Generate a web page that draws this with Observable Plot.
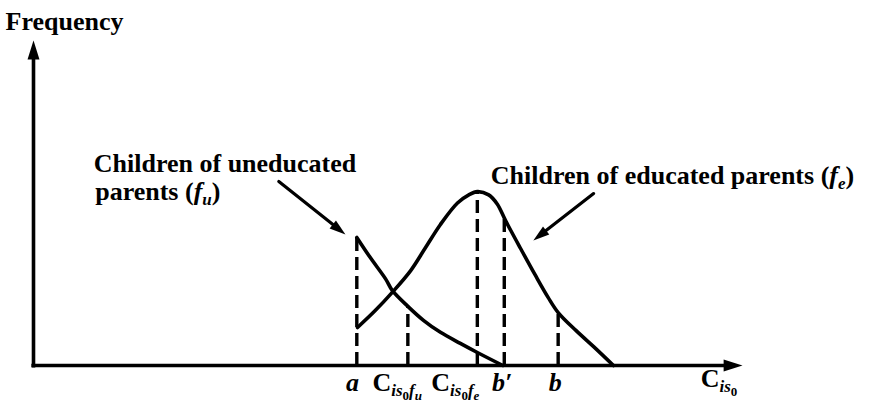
<!DOCTYPE html>
<html>
<head>
<meta charset="utf-8">
<script src="https://cdn.jsdelivr.net/npm/d3@7"></script>
<script src="https://cdn.jsdelivr.net/npm/@observablehq/plot@0.6"></script>
<style>
  html, body { margin: 0; padding: 0; background: #fff; }
  #chart svg { display: block; overflow: visible; }
</style>
</head>
<body>
<div id="chart"></div>
<script>
// Frequency curves in abstract units (x: score C_is0, y: frequency)
const uneducatedX = [45.6, 47.5, 49.7, 50.6, 52.8, 55.0, 57.4, 60.2, 62.6, 66.2];
const uneducatedY = [39.4, 33.2, 26.5, 23.1, 18.2, 13.9, 10.2, 6.8, 4.0, 0];
const educatedX = [45.7, 48.2, 50.6, 53.2, 55.3, 57.4, 59.8, 61.4, 62.6, 64.2, 65.4, 66.6, 68.7, 70.8, 72.6, 74.0, 76.5, 79.3, 81.8];
const educatedY = [11.7, 16.9, 22.5, 29.2, 36.3, 43.4, 50.0, 52.5, 53.5, 52.5, 49.7, 44.5, 36.0, 27.7, 20.9, 16.3, 10.8, 5.2, 0];

// Marked scores on the axis and the curve height each guide line reaches
const tickNames = ["a", "C_is0f_u", "C_is0f_e", "b′", "b"];
const tickX = [45.6, 52.8, 62.6, 66.4, 74.0];
const tickTop = [39.4, 18.2, 53.5, 45.5, 16.3];
// where each score's label is centred along the axis
const tickLabelX = [45.0, 51.3, 59.5, 66.1, 73.6];

// Curve annotations
const noteText = ["Children of uneducated", "parents (f_u)", "Children of educated parents (f_e)"];
const noteX = [8.5, 8.7, 64.5];
const noteY = [59.4, 50.8, 56.0];

// Annotation arrows, tail -> tip
const arrowX1 = [34.6, 79.0];
const arrowY1 = [56.6, 52.9];
const arrowX2 = [44.0, 70.5];
const arrowY2 = [40.3, 38.5];

// Axis titles
const axisTitle = ["Frequency", "C_is0"];
const axisTitleX = [-3.95, 94.1];
const axisTitleY = [103.1, 0];

// Rich text runs: [text, level (0 base, 1 sub, 2 sub-sub), italic]
const richText = {
  "parents (f_u)": [["parents (", 0, false], ["f", 0, true], ["u", 1, true], [")", 0, false]],
  "Children of educated parents (f_e)": [["Children of educated parents (", 0, false], ["f", 0, true], ["e", 1, true], [")", 0, false]],
  "a": [["a", 0, true]],
  "b": [["b", 0, true]],
  "b′": [["b′", 0, true]],
  "C_is0f_u": [["C", 0, false], ["is", 1, true], ["0", 2, false], ["f", 1, true], ["u", 2, true]],
  "C_is0f_e": [["C", 0, false], ["is", 1, true], ["0", 2, false], ["f", 1, true], ["e", 2, true]],
  "C_is0": [["C", 0, false], ["is", 1, true], ["0", 2, false]]
};
const levelSize = [26, 17, 13];
const levelShift = [0, 5, 9];

const W = 881, H = 402;
const M = {top: 40, right: 139, bottom: 37, left: 33};
const xDomain = [0, 100], yDomain = [0, 100];
const px = d3.scaleLinear(xDomain, [M.left, W - M.right]);
const py = d3.scaleLinear(yDomain, [H - M.bottom, M.top]);
const screenAngle = (x1, y1, x2, y2) =>
  Math.atan2(px(x2) - px(x1), -(py(y2) - py(y1))) * 180 / Math.PI;

const uneducated = uneducatedX.map((x, i) => ({x, y: uneducatedY[i]}));
const educated = educatedX.map((x, i) => ({x, y: educatedY[i]}));
const ticks = tickNames.map((name, i) => ({name, x: tickX[i], top: tickTop[i], lx: tickLabelX[i]}));
const notes = noteText.map((text, i) => ({text, x: noteX[i], y: noteY[i]}));
const arrows = arrowX1.map((x1, i) => ({
  x1, y1: arrowY1[i], x2: arrowX2[i], y2: arrowY2[i],
  angle: screenAngle(x1, arrowY1[i], arrowX2[i], arrowY2[i])
}));
const axes = [
  {x1: 0, y1: -0.6, x2: 0, y2: 96, hx: 0, hy: 100, angle: 0},
  {x1: -0.3, y1: 0, x2: 97.5, y2: 0, hx: 100, hy: 0, angle: 90}
];
const titles = axisTitle.map((text, i) => ({text, x: axisTitleX[i], y: axisTitleY[i]}));

// Filled, narrow arrowhead with its tip at the symbol origin, pointing up
const arrowHead = {
  draw(context, size) {
    const r = Math.sqrt(size / Math.PI);
    const len = 2.7 * r, half = 0.85 * r;
    context.moveTo(0, 0);
    context.lineTo(-half, len);
    context.lineTo(half, len);
    context.closePath();
  }
};

const font = "'Liberation Serif', 'Times New Roman', serif";
const ink = "#000";

const chart = Plot.plot({
  width: W, height: H,
  marginTop: M.top, marginRight: M.right, marginBottom: M.bottom, marginLeft: M.left,
  x: {domain: xDomain, axis: null},
  y: {domain: yDomain, axis: null},
  style: {background: "#fff", overflow: "visible"},
  marks: [
    // axes with arrowheads
    Plot.link(axes, {x1: "x1", y1: "y1", x2: "x2", y2: "y2", stroke: ink, strokeWidth: 3.6}),
    Plot.dot(axes, {x: "hx", y: "hy", rotate: "angle", symbol: arrowHead, r: 7, fill: ink, stroke: "none"}),
    // dashed guide lines
    Plot.ruleX(ticks, {x: "x", y1: () => 0, y2: "top", stroke: ink, strokeWidth: 3.4, strokeDasharray: "13,6"}),
    // frequency curves
    Plot.line(uneducated, {x: "x", y: "y", curve: "catmull-rom", stroke: ink, strokeWidth: 3.6, strokeLinejoin: "round"}),
    Plot.line(educated, {x: "x", y: "y", curve: "catmull-rom", stroke: ink, strokeWidth: 3.6, strokeLinejoin: "round"}),
    // annotation arrows
    Plot.arrow(arrows, {x1: "x1", y1: "y1", x2: "x2", y2: "y2", headLength: 0, insetEnd: 10, stroke: ink, strokeWidth: 3.2, bend: 0}),
    Plot.dot(arrows, {x: "x2", y: "y2", rotate: "angle", symbol: arrowHead, r: 6, fill: ink, stroke: "none"}),
    // labels
    Plot.text(notes, {x: "x", y: "y", text: "text", textAnchor: "start", lineAnchor: "bottom", fontSize: 26, fontFamily: font, fontWeight: "bold", fill: ink}),
    Plot.text(ticks, {x: "lx", y: () => 0, text: "name", textAnchor: "middle", lineAnchor: "bottom", dy: 25, fontSize: 26, fontFamily: font, fontWeight: "bold", fill: ink}),
    Plot.text(titles, {x: "x", y: "y", text: "text", textAnchor: "start", lineAnchor: "bottom", fontSize: 26, fontFamily: font, fontWeight: "bold", fill: ink})
  ]
});

// Typeset subscripts and italics as tspans
function setRich(el, parts) {
  el.textContent = "";
  let prev = 0;
  for (const [s, level, italic] of parts) {
    const t = document.createElementNS("http://www.w3.org/2000/svg", "tspan");
    t.textContent = s;
    t.setAttribute("font-size", levelSize[level]);
    if (italic) t.setAttribute("font-style", "italic");
    const dy = levelShift[level] - levelShift[prev];
    if (dy) t.setAttribute("dy", dy);
    prev = level;
    el.appendChild(t);
  }
}
chart.querySelectorAll("text").forEach((el) => {
  const parts = richText[el.textContent];
  if (parts) setRich(el, parts);
});
// the score-axis title sits a little below the axis line
chart.querySelectorAll("text").forEach((el) => {
  if (el.textContent === "Cis0") el.setAttribute("dy", 21);
});

document.getElementById("chart").appendChild(chart);
</script>
</body>
</html>
